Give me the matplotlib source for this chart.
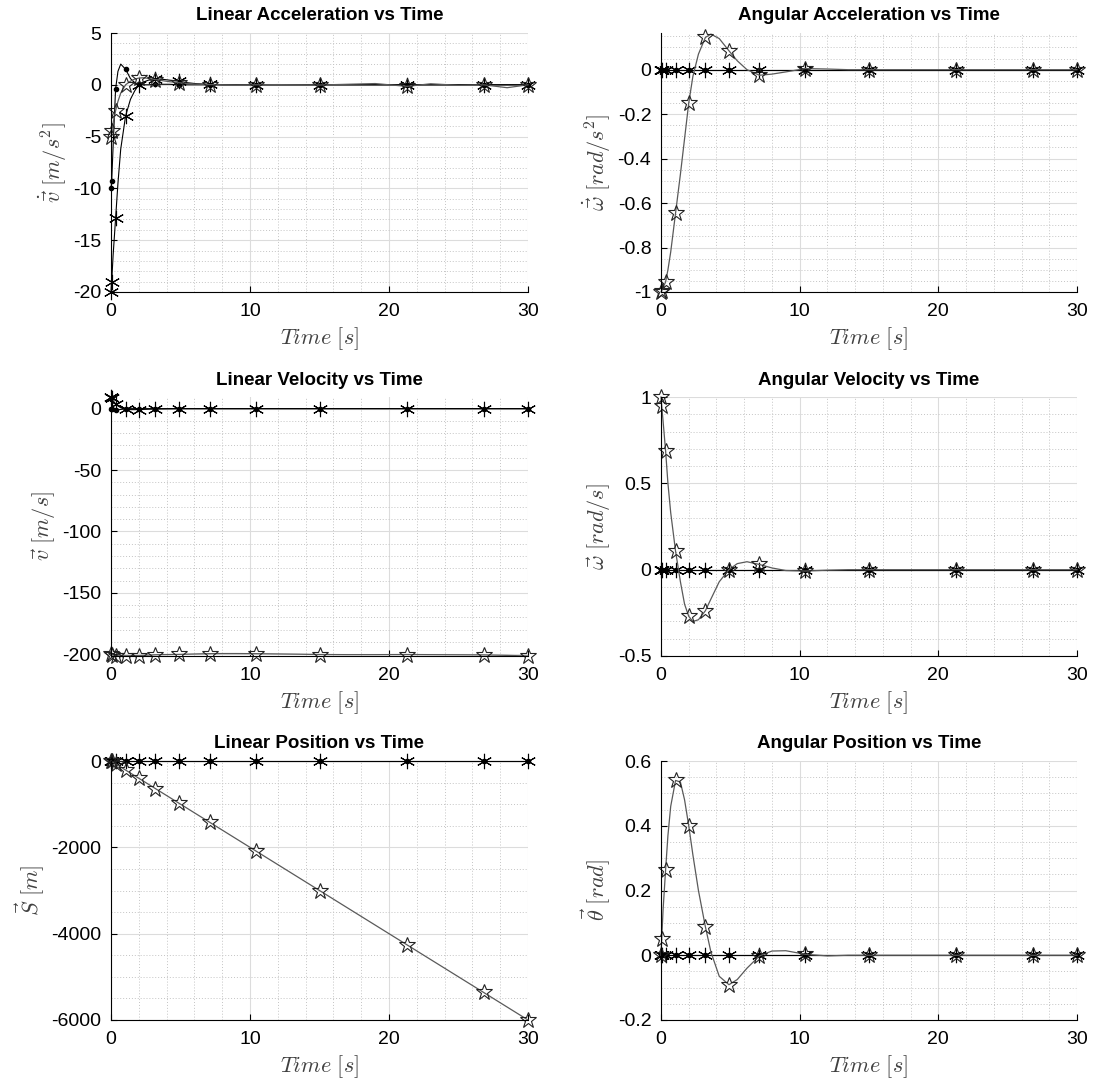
import matplotlib
matplotlib.use("Agg")
import matplotlib.pyplot as plt
from matplotlib.ticker import MultipleLocator, FuncFormatter

plt.rcParams['font.family'] = ['Liberation Sans', 'DejaVu Sans']
plt.rcParams['mathtext.fontset'] = 'cm'
plt.rcParams['axes.unicode_minus'] = False

# time samples of the solver output (s)
t = [0, 0.05, 0.15, 0.33, 0.5, 0.7, 1.05, 1.4, 1.7, 2.0, 2.3, 2.7, 3.2, 3.6, 4.2, 4.9, 5.5,
     6.2, 7.1, 8.0, 9.0, 10.4, 12.0, 13.5, 15.0, 17.0, 19.0, 21.3, 23.0, 25.0, 26.8, 28.5, 30.0]
# indices of the samples that carry a marker
marks = [0, 1, 3, 6, 9, 12, 15, 18, 21, 24, 27, 30, 32]

flat = [0.0] * len(t)

# linear acceleration
acc_star = [-20.0, -19.0, -16.5, -12.9, -9.5, -6.2, -3.0, -1.4, -0.6, 0.0, 0.25, 0.45,
            0.55, 0.55, 0.45, 0.35, 0.2, 0.1, 0.05, 0.0, 0.0, 0.0, 0.0, 0.0,
            0.0, 0.0, 0.0, 0.0, 0.0, 0.0, 0.0, 0.0, 0.0]
acc_dot = [-10.0, -9.3, -6.0, -0.4, 1.3, 2.0, 1.5, 0.6, 0.2, 0.05, 0.0, 0.0,
           0.05, 0.05, 0.05, 0.0, 0.0, 0.0, 0.0, 0.0, 0.0, 0.0, 0.0, 0.0,
           0.0, 0.0, 0.0, 0.0, 0.0, 0.0, 0.0, 0.0, 0.0]
acc_pent = [-5.0, -4.5, -3.7, -2.5, -1.6, -0.8, 0.0, 0.35, 0.55, 0.65, 0.68, 0.62,
            0.5, 0.42, 0.3, 0.2, 0.12, 0.06, 0.02, 0.0, -0.02, 0.0, 0.02, 0.0,
            -0.02, 0.05, 0.12, -0.15, 0.1, -0.05, 0.0, -0.28, 0.0]

# angular acceleration
aacc_pent = [-1.0, -0.995, -0.98, -0.955, -0.9, -0.82, -0.645, -0.47, -0.31, -0.15, -0.03, 0.07,
             0.145, 0.16, 0.14, 0.085, 0.04, 0.0, -0.025, -0.02, -0.01, 0.005, 0.003, 0.0,
             0.0, 0.0, 0.0, 0.0, 0.0, 0.0, 0.0, 0.0, 0.0]

# linear velocity
vel_star = [9.5, 8.5, 6.5, 4.0, 2.2, 0.8, -0.5, -0.8, -0.8, -0.7, -0.6, -0.4,
            -0.3, -0.2, -0.1, 0.0, 0.0, 0.0, 0.0, 0.0, 0.0, 0.0, 0.0, 0.0,
            0.0, 0.0, 0.0, 0.0, 0.0, 0.0, 0.0, 0.0, 0.0]
vel_dot = [0.0, -0.3, -0.8, -1.2, -1.0, -0.6, -0.2, 0.0, 0.0, 0.0, 0.0, 0.0,
           0.0, 0.0, 0.0, 0.0, 0.0, 0.0, 0.0, 0.0, 0.0, 0.0, 0.0, 0.0,
           0.0, 0.0, 0.0, 0.0, 0.0, 0.0, 0.0, 0.0, 0.0]
vel_pent = [-200.0, -200.3, -200.8, -201.2, -201.3, -201.3, -201.3, -201.3, -201.2, -201.2, -201.0, -200.8,
            -200.5, -200.4, -200.3, -200.2, -200.0, -199.8, -199.6, -199.5, -199.5, -199.6, -199.8, -200.0,
            -200.3, -200.4, -200.4, -200.3, -200.4, -200.5, -200.6, -201.0, -201.5]

# angular velocity
avel_pent = [1.0, 0.95, 0.86, 0.69, 0.5, 0.33, 0.107, -0.07, -0.2, -0.27, -0.30, -0.29,
             -0.238, -0.17, -0.07, 0.0, 0.035, 0.046, 0.03, 0.01, -0.005, -0.008, -0.003, 0.0,
             0.0, 0.0, 0.0, 0.0, 0.0, 0.0, 0.0, 0.0, 0.0]

# linear position
pos_pent = [0, -10, -30, -66, -100, -140, -210, -280, -340, -400, -460, -540,
            -640, -720, -840, -980, -1100, -1240, -1420, -1600, -1800, -2080, -2400, -2700,
            -3000, -3400, -3800, -4260, -4600, -5000, -5360, -5700, -6000]

# angular position
apos_pent = [0.0, 0.05, 0.14, 0.263, 0.37, 0.46, 0.54, 0.535, 0.48, 0.40, 0.31, 0.20,
             0.088, 0.01, -0.065, -0.091, -0.075, -0.04, -0.002, 0.013, 0.014, 0.003, -0.002, 0.0,
             0.0, 0.0, 0.0, 0.0, 0.0, 0.0, 0.0, 0.0, 0.0]


def fmt(v, pos):
    v = round(v, 6) + 0.0
    return f"{v:g}"


def draw(ax, star, dot, pent):
    ax.plot(t, star, color='k', lw=0.8, marker=(6, 2, 0), ms=11, mew=0.8,
            markevery=marks)
    ax.plot(t, dot, color='k', lw=0.8, marker='.', ms=6, markevery=marks)
    ax.plot(t, pent, color='#5a5a5a', lw=0.9, marker='*', ms=12, mew=0.8,
            mfc='none', mec='#222222', markevery=marks)


def style(ax, ylim, major, minor, ylabel, title):
    ax.set_xlim(0, 30)
    ax.set_ylim(*ylim)
    ax.xaxis.set_major_locator(MultipleLocator(10))
    ax.xaxis.set_minor_locator(MultipleLocator(2))
    ax.yaxis.set_major_locator(MultipleLocator(major))
    ax.yaxis.set_minor_locator(MultipleLocator(minor))
    ax.yaxis.set_major_formatter(FuncFormatter(fmt))
    ax.xaxis.set_major_formatter(FuncFormatter(fmt))
    ax.grid(which='major', color='#dcdcdc', lw=0.8)
    ax.grid(which='minor', color='#c4c4c4', lw=0.7, linestyle=(0, (1, 2)))
    ax.set_axisbelow(True)
    for s in ('top', 'right'):
        ax.spines[s].set_visible(False)
    for s in ('left', 'bottom'):
        ax.spines[s].set_linewidth(0.8)
    ax.tick_params(which='major', direction='in', length=4, labelsize=14,
                   top=False, right=False)
    ax.tick_params(axis='x', which='major', pad=8)
    ax.tick_params(axis='y', which='major', pad=7)
    ax.tick_params(which='minor', length=0)
    ax.set_title(title, fontsize=13.5, fontweight='bold', pad=9)
    ax.set_xlabel(r'$Time\ [s]$', fontsize=16, color='#404040', labelpad=4)
    ax.set_ylabel(ylabel, fontsize=16, color='#404040', labelpad=3)


fig = plt.figure(figsize=(10.94, 10.87), dpi=100)

W = 1094.0
H = 1087.0
lefts = [111 / W, 661 / W]
widths = [417 / W, 416 / W]
bottoms = [1 - 292 / H, 1 - 656 / H, 1 - 1020 / H]
height = 259 / H

ax1 = fig.add_axes([lefts[0], bottoms[0], widths[0], height])
draw(ax1, acc_star, acc_dot, acc_pent)
style(ax1, (-20, 5), 5, 1, r'$\dot{\vec{v}}\ [m/s^2]$', 'Linear Acceleration vs Time')

ax2 = fig.add_axes([lefts[1], bottoms[0], widths[1], height])
draw(ax2, flat, flat, aacc_pent)
style(ax2, (-1, 0.165), 0.2, 0.05, r'$\dot{\vec{\omega}}\ [rad/s^2]$', 'Angular Acceleration vs Time')

ax3 = fig.add_axes([lefts[0], bottoms[1], widths[0], height])
draw(ax3, vel_star, vel_dot, vel_pent)
style(ax3, (-201.5, 9.5), 50, 10, r'$\vec{v}\ [m/s]$', 'Linear Velocity vs Time')

ax4 = fig.add_axes([lefts[1], bottoms[1], widths[1], height])
draw(ax4, flat, flat, avel_pent)
style(ax4, (-0.5, 1), 0.5, 0.1, r'$\vec{\omega}\ [rad/s]$', 'Angular Velocity vs Time')

ax5 = fig.add_axes([lefts[0], bottoms[2], widths[0], height])
draw(ax5, flat, flat, pos_pent)
style(ax5, (-6000, 0), 2000, 500, r'$\vec{S}\ [m]$', 'Linear Position vs Time')

ax6 = fig.add_axes([lefts[1], bottoms[2], widths[1], height])
draw(ax6, flat, flat, apos_pent)
style(ax6, (-0.2, 0.6), 0.2, 0.05, r'$\vec{\theta}\ [rad]$', 'Angular Position vs Time')

for ax in fig.axes:
    for line in ax.get_lines():
        line.set_clip_on(False)

fig.savefig('out.png', dpi=100)
